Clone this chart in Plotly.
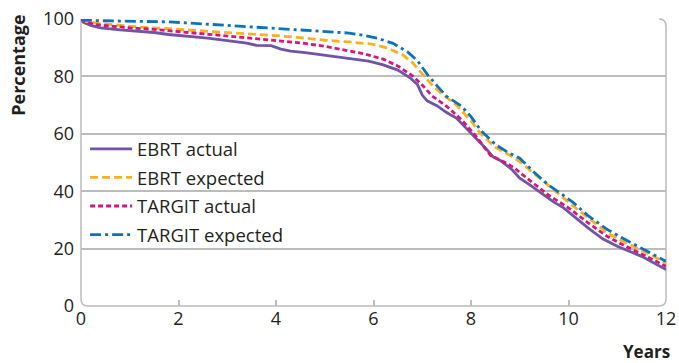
import plotly.graph_objects as go

ebrt_act_x = [0, 0.05, 0.2, 0.4, 0.8, 1.2, 1.5, 1.8, 2.2, 2.6, 3.0, 3.4, 3.6, 3.9, 4.1, 4.3, 4.6, 5.0, 5.3, 5.6, 5.9, 6.2, 6.5, 6.75, 6.9, 7.0, 7.1, 7.3, 7.5, 7.7, 7.9, 8.1, 8.3, 8.45, 8.6, 8.85, 9.0, 9.2, 9.45, 9.7, 9.9, 10.1, 10.4, 10.7, 11.0, 11.5, 12.0]
ebrt_act_y = [100, 98.8, 97.8, 96.9, 96.2, 95.7, 95.3, 94.6, 94.0, 93.3, 92.5, 91.6, 90.8, 90.7, 89.5, 88.8, 88.3, 87.4, 86.7, 86.1, 85.3, 84.0, 82.2, 79.5, 77.2, 73.5, 71.5, 69.8, 67.4, 65.5, 62.0, 58.6, 55.0, 52.0, 50.7, 47.4, 44.5, 42.3, 39.4, 36.2, 34.2, 31.4, 27.2, 23.4, 20.8, 17.3, 12.7]

ebrt_exp_x = [0, 0.1, 0.4, 0.8, 1.2, 1.8, 2.5, 3.0, 3.5, 4.0, 4.5, 5.0, 5.5, 6.0, 6.3, 6.6, 6.8, 7.0, 7.2, 7.4, 7.7, 8.0, 8.2, 8.5, 8.8, 9.0, 9.2, 9.5, 9.8, 10.1, 10.5, 10.8, 11.2, 11.6, 12.0]
ebrt_exp_y = [100, 99.2, 98.4, 97.8, 97.2, 96.6, 95.9, 95.3, 94.8, 94.2, 93.5, 92.6, 92.0, 91.2, 89.8, 87.5, 84.8, 80.8, 77.0, 74.0, 70.0, 64.5, 60.0, 55.3, 52.5, 50.3, 47.5, 43.0, 39.0, 34.8, 29.5, 25.4, 21.8, 18.6, 15.0]

targit_act_x = [0, 0.1, 0.3, 0.6, 1.0, 1.5, 2.0, 2.5, 3.0, 3.5, 4.0, 4.5, 5.0, 5.4, 5.8, 6.2, 6.5, 6.8, 7.0, 7.2, 7.5, 7.8, 8.1, 8.4, 8.7, 8.9, 9.0, 9.3, 9.6, 10.0, 10.4, 10.8, 11.2, 11.6, 12.0]
targit_act_y = [100, 99.0, 98.0, 97.5, 96.9, 96.4, 95.6, 94.9, 94.2, 93.3, 92.5, 91.7, 90.5, 89.1, 87.9, 86.0, 83.6, 80.2, 77.0, 73.2, 69.6, 65.0, 59.2, 52.5, 50.0, 48.0, 46.5, 42.5, 38.5, 34.2, 29.0, 24.2, 20.6, 17.3, 13.8]

targit_exp_x = [0, 0.1, 0.4, 1.0, 1.8, 2.5, 3.0, 3.5, 4.0, 4.5, 5.0, 5.5, 5.8, 6.1, 6.4, 6.7, 6.9, 7.1, 7.3, 7.5, 7.8, 8.0, 8.2, 8.5, 8.75, 9.0, 9.3, 9.6, 9.9, 10.1, 10.4, 10.8, 11.2, 11.6, 12.0]
targit_exp_y = [100, 99.6, 99.4, 99.2, 99.0, 98.3, 97.8, 97.3, 96.7, 96.2, 95.7, 95.1, 94.3, 93.2, 91.5, 88.5, 85.5, 80.8, 76.8, 73.0, 69.7, 66.0, 61.2, 56.3, 53.6, 51.5, 46.5, 42.0, 38.5, 36.0, 31.5, 26.6, 22.8, 19.3, 15.6]

series_names = ["EBRT actual", "EBRT expected", "TARGIT actual", "TARGIT expected"]
x_ticks = [0, 2, 4, 6, 8, 10, 12]
y_ticks = [0, 20, 40, 60, 80, 100]

colors = ["#7054a6", "#fbb01e", "#d6157f", "#0b72be"]
dashes = ["solid", "8px,4px", "5px,3px", "11px,4px,3px,4px"]
FONT = "Open Sans"
TXT = "#231f20"
GRID = "#bcbcbc"

fig = go.Figure()
data = [(ebrt_act_x, ebrt_act_y), (ebrt_exp_x, ebrt_exp_y), (targit_act_x, targit_act_y), (targit_exp_x, targit_exp_y)]
for i, ((xs, ys), name) in enumerate(zip(data, series_names)):
    fig.add_trace(go.Scatter(x=xs, y=ys, name=name, mode="lines", legendgroup=str(i),
                             line=dict(color=colors[i], width=2.8, dash=dashes[i])))

fig.update_layout(
    width=679, height=363,
    margin=dict(l=81, r=13, t=19, b=56.5, pad=0, autoexpand=False),
    plot_bgcolor="white", paper_bgcolor="white",
    font=dict(family=FONT, size=18, color=TXT),
    showlegend=True,
    legend=dict(x=0.007, y=0.612, xanchor="left", yanchor="top", bgcolor="rgba(0,0,0,0)",
                font=dict(size=18.5, color=TXT), tracegroupgap=1.5, itemwidth=42),
    xaxis=dict(range=[0, 12], tickvals=x_ticks, ticks="inside", ticklen=6, tickcolor=GRID, tickwidth=1.5,
               showgrid=False, zeroline=False, showline=False, automargin=False,
               tickfont=dict(size=18, color=TXT)),
    yaxis=dict(range=[0, 100], tickvals=y_ticks, showgrid=True, gridcolor=GRID, gridwidth=1.5,
               zeroline=False, showline=False, ticks="", ticklabelstandoff=6, automargin=False,
               tickfont=dict(size=18, color=TXT)),
)

rx, ry = 0.012, 0.025
path = (f"M 0,1 L 0,{ry} Q 0,0 {rx},0 L {1-rx},0 Q 1,0 1,{ry} "
        f"L 1,{1-ry} Q 1,1 {1-rx},1")
fig.add_shape(type="path", xref="paper", yref="paper", path=path,
              line=dict(color=GRID, width=1.5), layer="below")

fig.add_annotation(text="<b>Percentage</b>", xref="paper", yref="paper", x=-0.108, y=0.84,
                   textangle=-90, showarrow=False, font=dict(size=18, color=TXT, family=FONT),
                   xanchor="center", yanchor="middle")
fig.add_annotation(text="<b>Years</b>", xref="paper", yref="paper", x=1.01, y=-0.112,
                   showarrow=False, font=dict(size=17, color=TXT, family=FONT),
                   xanchor="right", yanchor="top")

fig.write_html("out.html", config={"displayModeBar": False},
               post_script="document.body.style.margin='0';document.body.style.overflow='hidden';")
